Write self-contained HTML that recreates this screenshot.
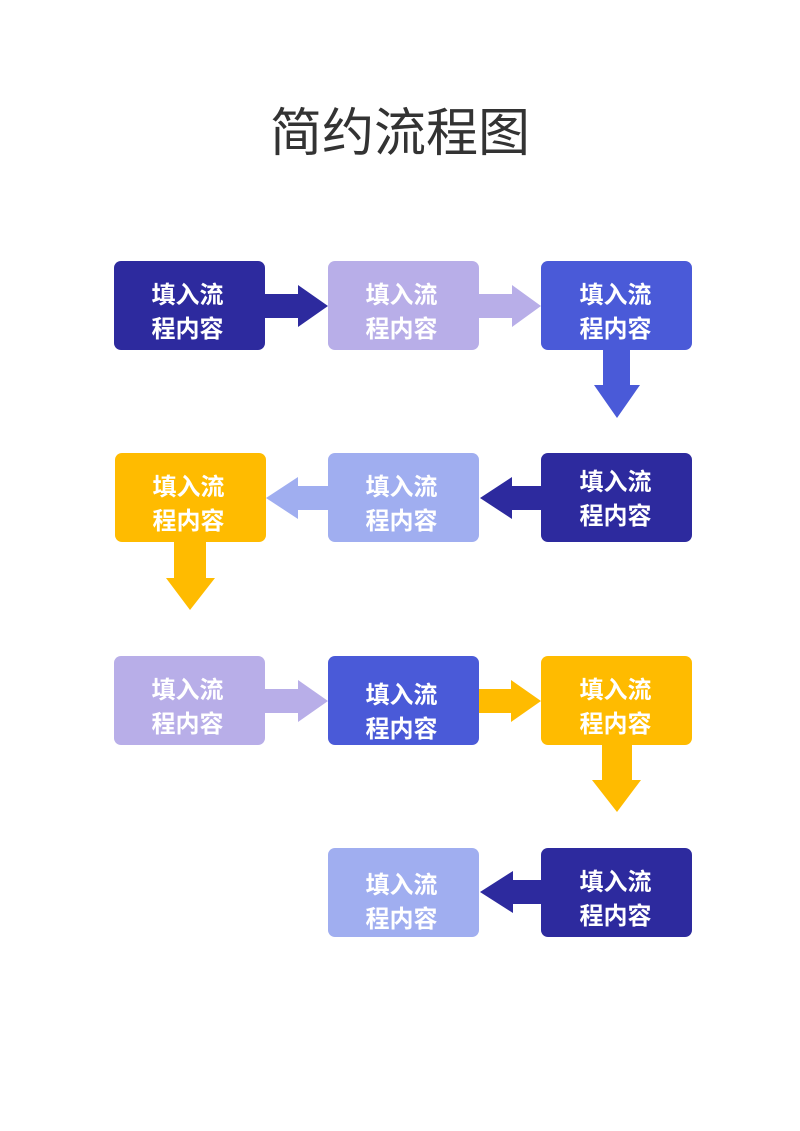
<!DOCTYPE html>
<html><head><meta charset="utf-8">
<style>
html,body{margin:0;padding:0;background:#fff;}
body{width:800px;height:1131px;position:relative;overflow:hidden;font-family:"Liberation Sans","Noto Sans CJK SC",sans-serif;}
.t{position:absolute;left:0;width:800px;top:101px;text-align:center;font-size:52px;color:#333;font-weight:400;line-height:66px;}
.b{position:absolute;width:151px;height:89px;display:flex;align-items:center;justify-content:center;text-align:center;color:#fff;font-weight:700;font-size:24px;line-height:34px;padding-top:14px;box-sizing:border-box;}
svg{position:absolute;left:0;top:0;}
</style></head><body>
<div class="t">简约流程图</div>
<svg width="800" height="1131">
<rect x="114" y="261" width="151" height="89" rx="7" fill="#2d2a9e"/>
<rect x="328" y="261" width="151" height="89" rx="7" fill="#b8aee8"/>
<rect x="541" y="261" width="151" height="89" rx="7" fill="#4a5ad8"/>
<polygon points="265,294 298,294 298,285 328,306 298,327 298,318 265,318" fill="#2d2a9e"/>
<polygon points="479,294 512,294 512,285 541,306 512,327 512,318 479,318" fill="#b8aee8"/>
<polygon points="603,350 630,350 630,385 640,385 617,418 594,385 603,385" fill="#4a5ad8"/>
<rect x="115" y="453" width="151" height="89" rx="7" fill="#ffbb00"/>
<rect x="328" y="453" width="151" height="89" rx="7" fill="#a0aef0"/>
<rect x="541" y="453" width="151" height="89" rx="7" fill="#2d2a9e"/>
<polygon points="328,486 298,486 298,477 266,498 298,519 298,510 328,510" fill="#a0aef0"/>
<polygon points="541,486 512,486 512,477 480,498 512,519 512,510 541,510" fill="#2d2a9e"/>
<polygon points="174,542 206,542 206,578 215,578 190,610 166,578 174,578" fill="#ffbb00"/>
<rect x="114" y="656" width="151" height="89" rx="7" fill="#b8aee8"/>
<rect x="328" y="656" width="151" height="89" rx="7" fill="#4a5ad8"/>
<rect x="541" y="656" width="151" height="89" rx="7" fill="#ffbb00"/>
<polygon points="265,689 298,689 298,680 328,701 298,722 298,713 265,713" fill="#b8aee8"/>
<polygon points="479,689 511,689 511,680 541,701 511,722 511,713 479,713" fill="#ffbb00"/>
<polygon points="602,745 632,745 632,780 641,780 617,812 592,780 602,780" fill="#ffbb00"/>
<rect x="328" y="848" width="151" height="89" rx="7" fill="#a0aef0"/>
<rect x="541" y="848" width="151" height="89" rx="7" fill="#2d2a9e"/>
<polygon points="541,880 513,880 513,871 480,892 513,913 513,904 541,904" fill="#2d2a9e"/>
</svg>
<div class="b" style="left:112px;top:261px">填入流<br>程内容</div>
<div class="b" style="left:326px;top:261px">填入流<br>程内容</div>
<div class="b" style="left:540px;top:261px">填入流<br>程内容</div>
<div class="b" style="left:113px;top:453px">填入流<br>程内容</div>
<div class="b" style="left:326px;top:453px">填入流<br>程内容</div>
<div class="b" style="left:540px;top:448px">填入流<br>程内容</div>
<div class="b" style="left:112px;top:656px">填入流<br>程内容</div>
<div class="b" style="left:326px;top:661px">填入流<br>程内容</div>
<div class="b" style="left:540px;top:656px">填入流<br>程内容</div>
<div class="b" style="left:326px;top:851px">填入流<br>程内容</div>
<div class="b" style="left:540px;top:848px">填入流<br>程内容</div>
</body></html>
